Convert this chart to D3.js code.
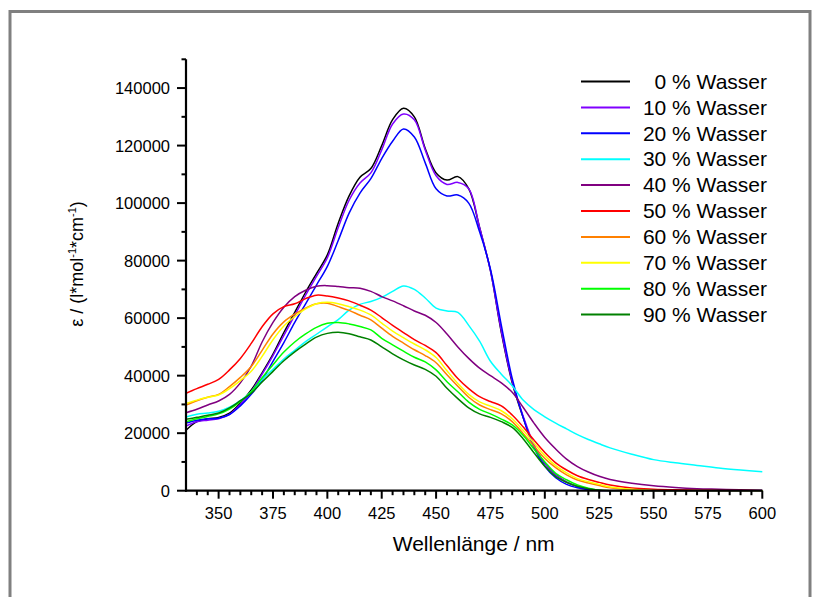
<!DOCTYPE html>
<html><head><meta charset="utf-8">
<script src="https://cdn.jsdelivr.net/npm/d3@7"></script>
<style>
html,body{margin:0;padding:0;background:#fff;}
svg{display:block;font-family:"Liberation Sans",Arial,sans-serif;}
</style></head>
<body>
<svg id="chart" width="814" height="597"></svg>
<script>
const wavelengths = [335,340,345,350,355,360,365,370,375,380,385,390,395,400,405,410,415,420,425,430,435,440,445,450,455,460,465,470,475,480,485,490,495,500,505,510,515,520,525,530,540,550,560,570,580,590,600];

const water0  = [21000,24000,25000,25500,27000,30500,35000,41000,47500,55000,62000,69000,75500,82000,93000,102500,109000,112000,120000,129000,133000,130000,119000,110500,108000,109200,105000,91500,76500,55000,37500,25500,15500,9500,5500,3000,1500,500,100,0,0,0,0,0,0,0,0];
const water10 = [22500,24000,24500,25000,26500,30000,34500,40500,47000,54000,61000,68000,74500,81000,91500,101000,107000,110500,118500,127500,131000,129000,118500,109500,106500,107200,105000,91500,76500,55500,38000,26000,16000,9500,5500,3000,1500,500,100,0,0,0,0,0,0,0,0];
const water20 = [23500,24500,25000,25200,26500,29500,33500,38500,45000,51500,58500,65000,71500,78000,87000,96500,103500,108500,115500,121500,125800,123000,114000,105000,102500,102800,100000,90000,77000,57500,39000,25500,15000,8500,4500,2200,1000,300,0,0,0,0,0,0,0,0,0];
const water30 = [25600,26600,27000,27600,29000,31300,34400,38700,42200,45800,48800,51800,54400,57000,59500,62800,64800,65800,67200,69300,71200,70000,67000,63500,62500,62000,57500,52000,45000,40500,36500,31500,28200,25700,23500,21500,19500,17800,16300,14900,12700,10800,9700,8800,7900,7200,6600];
const water40 = [27100,28300,29800,31200,33500,37500,43300,51700,58500,63800,67500,69700,71100,71300,71000,70600,70400,69300,67500,66000,64300,62500,61000,58500,54500,50000,46000,42600,40000,37500,34200,29000,23500,18500,14500,11000,8400,6500,5000,3900,2600,1700,1100,700,500,300,200];
const water50 = [33900,35500,37000,38700,42000,46000,51200,57000,61500,64000,65000,66800,68000,67700,67000,66000,64500,62800,60200,57500,55000,52500,50500,48000,43500,39000,35500,32700,31000,29500,26300,22200,17600,13300,9700,7200,5200,3900,2900,2000,900,500,300,200,100,50,0];
const water60 = [29800,31300,32500,33500,36200,39400,43200,48800,54500,58700,61400,63500,65000,65200,64000,62700,61000,59400,56500,53700,51300,49000,47000,44500,40300,36300,32500,29800,28200,26700,24000,19900,15500,11200,8000,5500,3700,2700,1800,1000,300,0,0,0,0,0,0];
const water70 = [30300,31500,32500,33300,35500,38300,41500,46700,52500,57300,60500,63200,65000,65500,65000,64000,62800,61100,58300,55500,53200,51000,49000,46300,41700,37300,33500,30900,29400,27800,25000,21000,16600,12200,8700,6200,4200,3100,2200,1300,500,100,0,0,0,0,0];
const water80 = [24000,25000,25800,26700,28400,31000,34400,39300,43800,48200,51700,54500,56800,58200,58500,58000,57100,55900,53000,50700,48500,46400,44800,42000,37900,34400,30800,28300,26700,24900,22900,19300,14500,10000,6000,3800,2000,900,200,0,0,0,0,0,0,0,0];
const water90 = [24800,25500,26200,27000,28800,31300,33900,37800,41500,45200,48300,51000,53400,54700,55100,54600,53500,52400,50000,47600,45500,43700,42200,39800,35600,32000,28800,26700,25500,24000,22000,18100,13200,8500,4900,2900,1500,700,200,0,0,0,0,0,0,0,0];

const seriesLabels = ["0 % Wasser","10 % Wasser","20 % Wasser","30 % Wasser","40 % Wasser","50 % Wasser","60 % Wasser","70 % Wasser","80 % Wasser","90 % Wasser"];
const seriesValues = [water0,water10,water20,water30,water40,water50,water60,water70,water80,water90];
const xTickValues = [350,375,400,425,450,475,500,525,550,575,600];
const yTickValues = [0,20000,40000,60000,80000,100000,120000,140000];
const xDomain = [335,600];
const yDomain = [0,150000];
const xTitle = "Wellenlänge / nm";

const colors = ["#000000","#8000ff","#0000ff","#00ffff","#800080","#ff0000","#ff8000","#ffff00","#00ff00","#008000"];

const svg = d3.select("#chart");
const L = 186, R = 762.3, T = 59.3, B = 490.7;
const x = d3.scaleLinear().domain(xDomain).range([L, R]);
const y = d3.scaleLinear().domain(yDomain).range([B, T]);

svg.append("defs").append("clipPath").attr("id","plotclip")
  .append("rect").attr("x",L).attr("y",T).attr("width",R-L+1).attr("height",B-T+0.5);

// frame
svg.append("rect").attr("x",10).attr("y",11.5).attr("width",800).attr("height",620)
  .attr("fill","none").attr("stroke","#808080").attr("stroke-width",3);

// lines
const line = d3.line().x((d,i)=>x(wavelengths[i])).y(d=>y(d)).curve(d3.curveCatmullRom.alpha(0.5));
const g = svg.append("g").attr("clip-path","url(#plotclip)");
seriesValues.forEach((vals,k)=>{
  g.append("path").attr("d", line(vals)).attr("fill","none")
    .attr("stroke", colors[k]).attr("stroke-width",1.5).attr("stroke-linejoin","round");
});

// axes
const ax = svg.append("g").attr("stroke","#000");
ax.append("line").attr("x1",L).attr("x2",L).attr("y1",y(yDomain[1])).attr("y2",B+1).attr("stroke-width",2.2);
ax.append("line").attr("x1",L-1).attr("x2",R).attr("y1",B).attr("y2",B).attr("stroke-width",2.2);

// y ticks
const yMinor = d3.range(yDomain[0], yDomain[1]+1, 10000).filter(v=>v%20000!==0);
yTickValues.forEach(v=>{
  ax.append("line").attr("x1",L-9).attr("x2",L).attr("y1",y(v)).attr("y2",y(v)).attr("stroke-width",2);
});
yMinor.forEach(v=>{
  ax.append("line").attr("x1",L-4.5).attr("x2",L).attr("y1",y(v)).attr("y2",y(v)).attr("stroke-width",2);
});
svg.append("g").selectAll("text").data(yTickValues).join("text")
  .attr("x",170).attr("y",d=>y(d)).attr("dy","0.36em").attr("text-anchor","end")
  .attr("font-size","16.5px").attr("fill","#000").text(d=>d);

// x ticks
const xMinor = d3.range(340, 600, 5).filter(v=>v%25!==0);
xTickValues.forEach(v=>{
  ax.append("line").attr("x1",x(v)).attr("x2",x(v)).attr("y1",B).attr("y2",B+8).attr("stroke-width",2);
});
xMinor.forEach(v=>{
  ax.append("line").attr("x1",x(v)).attr("x2",x(v)).attr("y1",B).attr("y2",B+4.5).attr("stroke-width",2);
});
svg.append("g").selectAll("text").data(xTickValues).join("text")
  .attr("x",d=>x(d)).attr("y",B+28).attr("text-anchor","middle")
  .attr("font-size","16.5px").attr("fill","#000").text(d=>d);

// axis titles
svg.append("text").attr("x",(L+R)/2-0.5).attr("y",551).attr("text-anchor","middle")
  .attr("font-size","21px").attr("fill","#000").text(xTitle);

const yt = svg.append("text").attr("transform","translate(83,264) rotate(-90)")
  .attr("text-anchor","middle").attr("font-size","18px").attr("fill","#000");
yt.append("tspan").text("ε / (l*mol");
yt.append("tspan").attr("font-size","11px").attr("dy","-7").text("-1");
yt.append("tspan").attr("dy","7").text("*cm");
yt.append("tspan").attr("font-size","11px").attr("dy","-7").text("-1");
yt.append("tspan").attr("dy","7").text(")");

// legend
const lg = svg.append("g");
seriesLabels.forEach((lab,k)=>{
  const yy = 81.5 + k*25.9;
  lg.append("line").attr("x1",581).attr("x2",630).attr("y1",yy).attr("y2",yy)
    .attr("stroke",colors[k]).attr("stroke-width",2);
  lg.append("text").attr("x",767).attr("y",yy+7.2).attr("text-anchor","end")
    .attr("font-size","21px").attr("fill","#000").text(lab);
});
</script>
</body></html>
